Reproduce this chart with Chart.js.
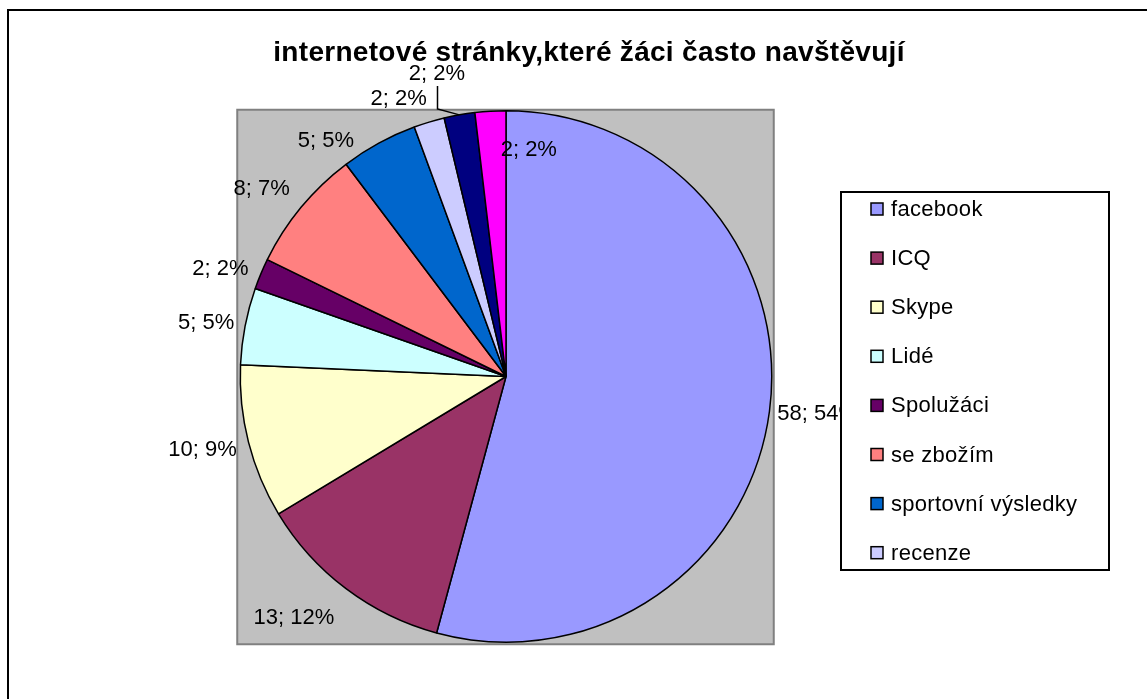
<!DOCTYPE html>
<html>
<head>
<meta charset="utf-8">
<script src="https://cdn.jsdelivr.net/npm/chart.js@4/dist/chart.umd.min.js"></script>
<style>
body { margin: 0; background: #fff; }
#wrap { width: 1147px; height: 699px; }
</style>
</head>
<body>
<div id="wrap"><canvas id="canvas" width="1147" height="699"></canvas></div>
<script>
var chartTitle = 'internetové stránky,které žáci často navštěvují';
var categories = ['facebook', 'ICQ', 'Skype', 'Lidé', 'Spolužáci', 'se zbožím', 'sportovní výsledky', 'recenze', 'ostatní', 'jiné'];
var values = [58, 13, 10, 5, 2, 8, 5, 2, 2, 2];
var colors = ['#9999FF', '#993366', '#FFFFCC', '#CCFFFF', '#660066', '#FF8080', '#0066CC', '#CCCCFF', '#000080', '#FF00FF'];
var legendShown = 8; // legend box in the original only fits the first 8

var total = values.reduce(function(a, b) { return a + b; }, 0);
var FONT = '"Liberation Sans", Arial, sans-serif';

// manual label nudges (the original has some labels dragged by hand)
var labelNudge = [[0, 0], [-7, 16], [-4, 4], [-3, 0], [-5, 1], [-5, -8], [-21, 12], [0, -8], [7, -25], [67, 55]];
var leaderFor = [8];

var backdrop = {
    id: 'backdrop',
    beforeDraw: function(chart) {
        var ctx = chart.ctx;
        ctx.save();
        ctx.fillStyle = '#fff';
        ctx.fillRect(0, 0, chart.width, chart.height);
        // outer chart border (only top/left visible)
        ctx.strokeStyle = '#000';
        ctx.lineWidth = 2;
        ctx.beginPath();
        ctx.moveTo(8, chart.height);
        ctx.lineTo(8, 10);
        ctx.lineTo(chart.width, 10);
        ctx.stroke();
        // title
        ctx.fillStyle = '#000';
        ctx.font = 'bold 28px ' + FONT;
        ctx.letterSpacing = '0.3px';
        ctx.textAlign = 'center';
        ctx.textBaseline = 'middle';
        ctx.fillText(chartTitle, 589, 53);
        ctx.restore();
    },
    beforeDatasetsDraw: function(chart) {
        var arc = chart.getDatasetMeta(0).data[0];
        var ctx = chart.ctx;
        var r = arc.outerRadius;
        ctx.save();
        ctx.fillStyle = '#C0C0C0';
        ctx.fillRect(arc.x - r - 3, arc.y - r - 1, 2 * r + 5, 2 * r + 3);
        ctx.strokeStyle = '#808080';
        ctx.lineWidth = 2;
        ctx.strokeRect(arc.x - r - 3, arc.y - r - 1, 2 * r + 5, 2 * r + 3);
        ctx.restore();
    },
    afterDatasetsDraw: function(chart) {
        var ctx = chart.ctx;
        var meta = chart.getDatasetMeta(0);
        ctx.save();
        ctx.font = '22px ' + FONT;
        ctx.fillStyle = '#000';
        ctx.textBaseline = 'middle';
        meta.data.forEach(function(el, i) {
            var a = (el.startAngle + el.endAngle) / 2;
            var d = el.outerRadius + 8;
            var px = el.x + d * Math.cos(a);
            var py = el.y + d * Math.sin(a);
            var txt = values[i] + '; ' + Math.round(values[i] / total * 100) + '%';
            var w = ctx.measureText(txt).width;
            var left = Math.cos(a) >= 0 ? px : px - w;
            var cy = py + Math.sin(a) * 8;
            left += labelNudge[i][0];
            cy += labelNudge[i][1];
            ctx.textAlign = 'left';
            ctx.fillText(txt, left, cy);
            if (leaderFor.indexOf(i) >= 0) {
                var lx = Math.round(left + w / 2) + 0.5;
                var ex = el.x + el.outerRadius * Math.cos(a);
                var ey = el.y + el.outerRadius * Math.sin(a);
                ctx.strokeStyle = '#000';
                ctx.lineWidth = 1.5;
                ctx.beginPath();
                ctx.moveTo(lx, cy + 12);
                ctx.lineTo(lx, ey - 6);
                ctx.lineTo(ex, ey);
                ctx.stroke();
            }
        });
        ctx.restore();
    },
    afterDraw: function(chart) {
        // legend box
        var ctx = chart.ctx;
        ctx.save();
        ctx.fillStyle = '#fff';
        ctx.fillRect(841, 192, 268, 378);
        ctx.strokeStyle = '#000';
        ctx.lineWidth = 2;
        ctx.strokeRect(841, 192, 268, 378);
        ctx.font = '22px ' + FONT;
        ctx.letterSpacing = '0.3px';
        ctx.textBaseline = 'middle';
        ctx.textAlign = 'left';
        for (var i = 0; i < legendShown; i++) {
            var y = 209 + i * 49.1;
            ctx.fillStyle = colors[i];
            ctx.fillRect(871, y - 6, 12, 12);
            ctx.strokeStyle = '#000';
            ctx.lineWidth = 1.5;
            ctx.strokeRect(871, y - 6, 12, 12);
            ctx.fillStyle = '#000';
            ctx.fillText(categories[i], 891, y + 1);
        }
        ctx.restore();
    }
};

var ctx = document.getElementById('canvas').getContext('2d');
var myPie = new Chart(ctx, {
    type: 'pie',
    data: {
        labels: categories,
        datasets: [{
            data: values,
            backgroundColor: colors,
            borderColor: '#000',
            borderWidth: 1.5,
            borderAlign: 'center'
        }]
    },
    options: {
        responsive: false,
        animation: false,
        devicePixelRatio: 1,
        layout: { padding: { left: 238, right: 373, top: 110, bottom: 56 } },
        plugins: {
            legend: { display: false },
            title: { display: false },
            tooltip: { enabled: false }
        }
    },
    plugins: [backdrop]
});
</script>
</body>
</html>
